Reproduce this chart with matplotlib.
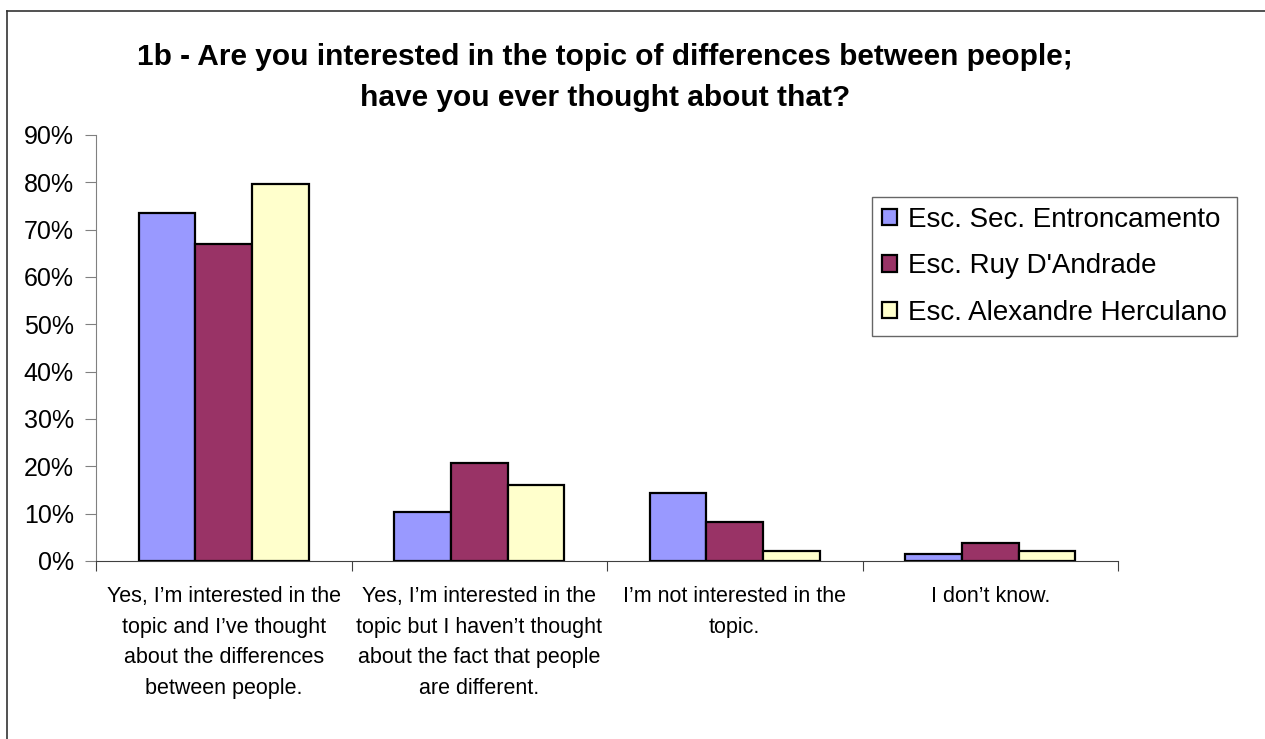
import numpy as np
import matplotlib
matplotlib.use("Agg")
import matplotlib.pyplot as plt
from matplotlib.lines import Line2D
from matplotlib.ticker import PercentFormatter

plt.rcParams['font.family'] = ['Liberation Sans', 'DejaVu Sans']

categories = [
    "Yes, I\u2019m interested in the\ntopic and I\u2019ve thought\nabout the differences\nbetween people.",
    "Yes, I\u2019m interested in the\ntopic but I haven\u2019t thought\nabout the fact that people\nare different.",
    "I\u2019m not interested in the\ntopic.",
    "I don\u2019t know.",
]
schools = ["Esc. Sec. Entroncamento", "Esc. Ruy D'Andrade", "Esc. Alexandre Herculano"]
entroncamento = [73.5, 10.4, 14.4, 1.5]
ruy = [66.9, 20.6, 8.3, 3.8]
herculano = [79.6, 16.1, 2.1, 2.1]
colors = ["#9999FF", "#993366", "#FFFFCC"]
title = "1b - Are you interested in the topic of differences between people;\nhave you ever thought about that?"

fig = plt.figure(figsize=(12.65, 7.39), dpi=100)
ax = fig.add_axes([96/1265, 1 - 561/739, (1118 - 96)/1265, (561 - 135)/739])

x = np.arange(len(categories))
w = 0.222
for i, (vals, name) in enumerate(zip([entroncamento, ruy, herculano], schools)):
    ax.bar(x + (i - 1) * w, vals, w, color=colors[i], edgecolor="black",
           linewidth=1.6, label=name, zorder=3)

ax.set_xlim(-0.5, len(categories) - 0.5)
ax.set_ylim(0, 90)
ax.set_yticks(np.arange(0, 91, 10))
ax.yaxis.set_major_formatter(PercentFormatter(decimals=0))
ax.tick_params(axis='y', labelsize=18, length=8, color="#808080", pad=8)

# category boundary ticks on the x axis
ax.set_xticks(np.arange(-0.5, len(categories), 1))
ax.set_xticklabels([])
ax.tick_params(axis='x', length=7, color="#404040")
for xi, lab in zip(x, categories):
    ax.text(xi, -5.3, lab, ha="center", va="top", fontsize=15.5,
            linespacing=1.6)

for s in ["top", "right"]:
    ax.spines[s].set_visible(False)
ax.spines["left"].set_color("#808080")
ax.spines["bottom"].set_color("#404040")

fig.text(0.478, 1 - 77.5/739, title, ha="center", va="center", fontsize=21.5,
         fontweight="bold", linespacing=1.55)

leg = ax.legend(loc="upper left", bbox_to_anchor=(872/1265, 1 - 197/739),
                bbox_transform=fig.transFigure, fontsize=20, frameon=True,
                fancybox=False, edgecolor="#404040", borderpad=0.35,
                labelspacing=0.74, handlelength=0.55, handleheight=0.55,
                handletextpad=0.4, borderaxespad=0)
leg.get_frame().set_linewidth(1.0)

# outer frame of the chart area (left and top edges)
fig.add_artist(Line2D([7/1265, 7/1265], [0, 1 - 11/739], transform=fig.transFigure,
                      color="#333333", linewidth=1.2))
fig.add_artist(Line2D([7/1265, 1], [1 - 11/739, 1 - 11/739], transform=fig.transFigure,
                      color="#333333", linewidth=1.2))

fig.savefig("out.png", dpi=100)
